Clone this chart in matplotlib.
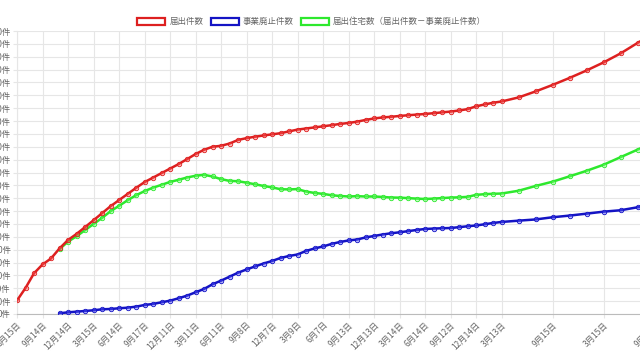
import matplotlib
matplotlib.use("Agg")
import matplotlib.pyplot as plt
from matplotlib.patches import Patch

plt.rcParams['font.family'] = ['Noto Sans CJK JP', 'DejaVu Sans']

# month offsets from 2018-06-15 (monthly until 2023-03, then every 2 months)
months = list(range(0, 58)) + list(range(59, 76, 2))
abolish_start = 5  # 事業廃止件数 / 届出住宅数 start at this point

notified = [2100, 4040, 6330, 7700, 8630, 10190, 11510, 12440, 13500, 14570,
            15660, 16750, 17700, 18650, 19600, 20500, 21200, 21900, 22600, 23300,
            24070, 24860, 25530, 26000, 26150, 26500, 27060, 27340, 27560, 27760,
            27930, 28110, 28390, 28670, 28840, 29010, 29180, 29360, 29550, 29700,
            29900, 30170, 30400, 30560, 30660, 30790, 30900, 31000, 31100, 31220,
            31350, 31470, 31640, 31850, 32280, 32580, 32840, 33040,
            33670, 34600, 35610, 36700, 37860, 39110, 40510, 42140, 43700]

abolished = [110, 260, 360, 470, 580, 730, 780, 890, 980, 1140,
             1400, 1560, 1820, 2070, 2440, 2850, 3370, 3890, 4620, 5180,
             5800, 6420, 6920, 7390, 7850, 8240, 8710, 9020, 9250, 9800,
             10190, 10500, 10890, 11200, 11430, 11580, 11900, 12130, 12360, 12550,
             12700, 12880, 13060, 13220, 13280, 13330, 13370, 13500, 13640, 13760,
             13950, 14150, 14310,
             14510, 14700, 15040, 15300, 15600, 15910, 16130, 16590, 16950]

houses = [10080, 11250, 12080, 13030, 13990, 14930, 15970, 16810, 17670, 18460,
          19100, 19640, 20080, 20530, 20860, 21220, 21490, 21640, 21380, 20970,
          20700, 20640, 20420, 20170, 19910, 19690, 19400, 19370, 19420, 19040,
          18820, 18680, 18470, 18350, 18270, 18320, 18270, 18270, 18200, 18110,
          18090, 18020, 17940, 17880, 17940, 18020, 18100, 18140, 18210, 18520,
          18630, 18690, 18730,
          19160, 19900, 20570, 21400, 22260, 23200, 24380, 25550, 26750]

tick_pos = [0, 3, 6, 9, 12, 15, 18, 21, 24, 27, 30, 33, 36, 39, 42, 45, 48, 51,
            54, 57, 63, 69, 75]
tick_labels = ['6月15日', '9月14日', '12月14日', '3月15日', '6月14日', '9月17日',
               '12月11日', '3月11日', '6月11日', '9月8日', '12月7日', '3月9日',
               '6月7日', '9月13日', '12月13日', '3月14日', '6月14日', '9月12日',
               '12月14日', '3月13日', '9月15日', '3月15日', '9月13日']

names = ['届出件数', '事業廃止件数', '届出住宅数（届出件数－事業廃止件数）']
colors = ['#dd2020', '#1414c4', '#2de82d']
faces = [(1, 0.35, 0.35, 0.4), (0.35, 0.35, 1, 0.4), (0.45, 1, 0.45, 0.4)]

fig = plt.figure(figsize=(6.4, 3.6), dpi=100)
ax = fig.add_axes([17 / 640, 46 / 360, (654.5 - 17) / 640, 283 / 360])

ax.plot(months[abolish_start:], houses, color=colors[2], lw=1.8, marker='o', ms=3.2,
        mfc=faces[2], mec=colors[2], mew=0.6, zorder=3)
ax.plot(months[abolish_start:], abolished, color=colors[1], lw=1.8, marker='o', ms=3.2,
        mfc=faces[1], mec=colors[1], mew=0.6, zorder=4)
ax.plot(months, notified, color=colors[0], lw=1.8, marker='o', ms=3.2,
        mfc=faces[0], mec=colors[0], mew=0.6, zorder=5)

ax.set_xlim(0, 75)
ax.set_ylim(0, 44000)
ax.set_yticks(range(0, 44001, 2000))
ax.set_yticklabels([f'{v}件' for v in range(0, 44001, 2000)])
ax.set_xticks(tick_pos)
ax.set_xticklabels(tick_labels, rotation=45, ha='right', rotation_mode='anchor')

ax.grid(True, color='#e6e6e6', lw=0.8)
ax.set_axisbelow(True)
ax.tick_params(axis='both', colors='#e6e6e6', labelcolor='#666666', labelsize=6,
               length=3, width=0.8, pad=1.5)
for s in ['top', 'right']:
    ax.spines[s].set_visible(False)
ax.spines['left'].set_color('#e6e6e6')
ax.spines['bottom'].set_color('#bbbbbb')
ax.spines['left'].set_linewidth(0.8)
ax.spines['bottom'].set_linewidth(0.8)

handles = [Patch(facecolor='white', edgecolor=c, linewidth=1.6) for c in colors]
fig.legend(handles, names, loc='center', bbox_to_anchor=(0.487, 0.94), ncol=3,
           frameon=False, fontsize=6.1, labelcolor='#666666', handlelength=3.3,
           handleheight=0.9, handletextpad=0.5, columnspacing=0.85)

fig.savefig('out.png', dpi=100)
